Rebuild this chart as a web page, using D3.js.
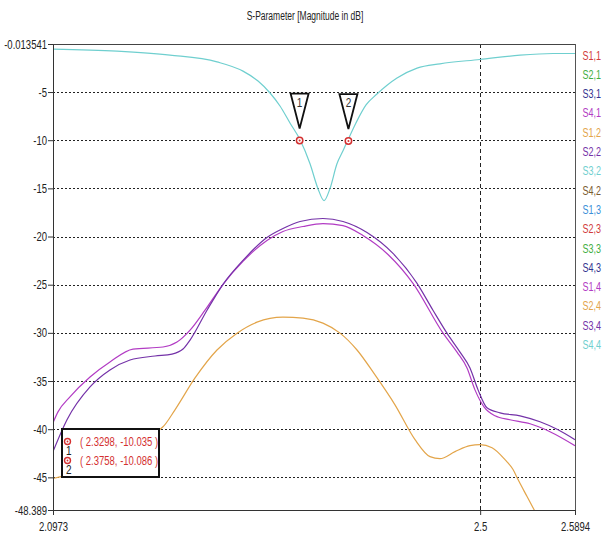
<!DOCTYPE html>
<html>
<head>
<meta charset="utf-8">
<script src="https://cdn.jsdelivr.net/npm/d3@7"></script>
<style>
  body { margin: 0; background: #fff; }
  text { font-family: "Liberation Sans", Arial, sans-serif; }
</style>
</head>
<body>
<div id="chart"></div>
<script>
// frequency (GHz) / magnitude (dB)
const s44x = [2.0973, 2.1576, 2.2076, 2.2519, 2.2764, 2.2906, 2.3019, 2.3113, 2.3207, 2.3302, 2.3396, 2.3471, 2.3528, 2.3584, 2.3650, 2.3707, 2.3754, 2.3829, 2.3924, 2.4027, 2.4216, 2.4405, 2.4621, 2.4998, 2.5376, 2.5687, 2.5894];
const s44y = [-0.55, -0.76, -1.17, -1.87, -2.83, -3.86, -5.10, -6.45, -8.21, -9.96, -12.45, -15.03, -16.27, -15.03, -12.45, -11.10, -9.96, -8.21, -6.34, -5.21, -3.55, -2.52, -2.07, -1.62, -1.17, -1.00, -1.00];

const s14x = [2.0973, 2.1020, 2.1133, 2.1322, 2.1510, 2.1727, 2.2010, 2.2142, 2.2265, 2.2406, 2.2576, 2.2764, 2.2990, 2.3141, 2.3330, 2.3518, 2.3707, 2.3895, 2.4131, 2.4367, 2.4650, 2.4782, 2.4876, 2.4951, 2.5036, 2.5140, 2.5281, 2.5470, 2.5658, 2.5894];
const s14y = [-39.33, -38.20, -36.64, -34.58, -33.02, -31.68, -31.47, -30.96, -29.72, -27.65, -24.96, -22.58, -20.41, -19.48, -18.96, -18.65, -18.86, -19.89, -21.86, -24.86, -30.03, -32.00, -33.65, -35.92, -37.68, -38.61, -39.02, -39.44, -40.26, -41.71];

const s34x = [2.0973, 2.1105, 2.1322, 2.1510, 2.1699, 2.1935, 2.2095, 2.2199, 2.2265, 2.2425, 2.2576, 2.2764, 2.2990, 2.3141, 2.3302, 2.3518, 2.3707, 2.3933, 2.4178, 2.4405, 2.4555, 2.4687, 2.4810, 2.4904, 2.4980, 2.5064, 2.5187, 2.5376, 2.5564, 2.5734, 2.5894];
const s34y = [-42.33, -39.02, -35.61, -33.85, -32.82, -32.40, -32.20, -31.68, -30.75, -27.65, -24.96, -22.48, -20.10, -19.17, -18.44, -18.13, -18.44, -19.58, -21.75, -24.86, -27.65, -30.03, -32.00, -33.65, -35.92, -37.78, -38.30, -38.61, -39.23, -40.06, -41.09];

const s24x = [2.0973, 2.2010, 2.2123, 2.2312, 2.2519, 2.2708, 2.2896, 2.3141, 2.3330, 2.3518, 2.3679, 2.3839, 2.4009, 2.4197, 2.4386, 2.4527, 2.4621, 2.4763, 2.4904, 2.4998, 2.5112, 2.5234, 2.5310, 2.5357, 2.5442, 2.5517];
const s24y = [-45.12, -39.75, -37.99, -34.68, -31.78, -30.03, -28.89, -28.37, -28.47, -28.99, -30.03, -31.78, -34.37, -37.47, -41.09, -42.85, -43.06, -42.33, -41.71, -41.61, -41.92, -43.16, -44.19, -45.23, -46.99, -48.54];

const legendNames = ["S1,1","S2,1","S3,1","S4,1","S1,2","S2,2","S3,2","S4,2","S1,3","S2,3","S3,3","S4,3","S1,4","S2,4","S3,4","S4,4"];
const palette = ["#d13b3b","#3fae3f","#33338f","#b23cc4","#e3a54a","#7432a8","#6fcfcf","#7a5a2e","#3a8fd8"];

const yTicks = [-0.013541, -5, -10, -15, -20, -25, -30, -35, -40, -45, -48.389];
const yTickLabels = ["-0.013541","-5","-10","-15","-20","-25","-30","-35","-40","-45","-48.389"];
const gridY = [-5, -10, -15, -20, -25, -30, -35, -40, -45];
const xTicks = [2.0973, 2.5, 2.5894];
const xTickLabels = ["2.0973","2.5","2.5894"];

const markerIds = ["1","2"];
const markerX = [2.3298, 2.3758];
const markerY = [-10.035, -10.086];

const width = 607, height = 537;
const mLeft = 53, mRight = 575, mTop = 44, mBottom = 510;
const fs = 12.5;

// squeeze text horizontally, the original uses a narrow font
function squeeze(sel, f) {
    sel.each(function() {
        let w = this.getComputedTextLength();
        d3.select(this).attr("textLength", w * f).attr("lengthAdjust", "spacingAndGlyphs");
    });
}

let svg = d3.select("#chart").append("svg")
    .attr("width", width).attr("height", height);

let x = d3.scaleLinear().domain([2.0973, 2.5894]).range([mLeft, mRight]);
let y = d3.scaleLinear().domain([-48.389, -0.013541]).range([mBottom, mTop]);

svg.append("text")
    .attr("x", 305).attr("y", 20)
    .attr("text-anchor", "middle")
    .attr("font-size", fs).attr("fill", "#222")
    .text("S-Parameter [Magnitude in dB]")
    .call(squeeze, 0.68);

// grid
svg.append("g").selectAll("line")
    .data(gridY).enter().append("line")
    .attr("x1", mLeft).attr("x2", mRight)
    .attr("y1", d => Math.round(y(d)) + 0.5).attr("y2", d => Math.round(y(d)) + 0.5)
    .attr("stroke", "#222").attr("stroke-width", 1)
    .attr("stroke-dasharray", "2,2");
svg.append("line")
    .attr("x1", Math.round(x(2.5)) + 0.5).attr("x2", Math.round(x(2.5)) + 0.5)
    .attr("y1", mTop).attr("y2", mBottom)
    .attr("stroke", "#222").attr("stroke-dasharray", "4,3");

svg.append("clipPath").attr("id", "plotClip")
    .append("rect").attr("x", mLeft).attr("y", mTop)
    .attr("width", mRight - mLeft).attr("height", mBottom - mTop);

let line = d3.line()
    .x(d => x(d[0])).y(d => y(d[1]))
    .curve(d3.curveMonotoneX);

const series = [
    {xs: s24x, ys: s24y, colour: palette[4]},
    {xs: s14x, ys: s14y, colour: palette[3]},
    {xs: s34x, ys: s34y, colour: palette[5]},
    {xs: s44x, ys: s44y, colour: palette[6]}
];
let plot = svg.append("g").attr("clip-path", "url(#plotClip)");
for (let s of series) {
    plot.append("path")
        .datum(s.xs.map((v, i) => [v, s.ys[i]]))
        .attr("d", line)
        .attr("fill", "none")
        .attr("stroke", s.colour)
        .attr("stroke-width", 1.2);
}

// frame
svg.append("line").attr("x1", mLeft).attr("x2", mRight).attr("y1", mTop + 0.5).attr("y2", mTop + 0.5)
    .attr("stroke", "#444");
svg.append("line").attr("x1", mRight + 0.5).attr("x2", mRight + 0.5).attr("y1", mTop).attr("y2", mBottom)
    .attr("stroke", "#555");

// axes
let yAxis = d3.axisLeft(y).tickValues(yTicks)
    .tickFormat((d, i) => yTickLabels[i]).tickSize(5).tickSizeOuter(0);
let gy = svg.append("g").attr("transform", `translate(${mLeft},0)`).call(yAxis);
let xAxis = d3.axisBottom(x).tickValues(xTicks)
    .tickFormat((d, i) => xTickLabels[i]).tickSize(5).tickSizeOuter(0);
let gx = svg.append("g").attr("transform", `translate(0,${mBottom})`).call(xAxis);
for (let g of [gx, gy]) {
    g.selectAll("path, line").attr("stroke", "#333");
    g.selectAll("text").attr("font-size", fs).attr("fill", "#222")
        .style("font-family", "'Liberation Sans', Arial, sans-serif");
}
gy.selectAll("text").attr("x", -6).call(squeeze, 0.76);
gx.selectAll("text").attr("y", 12).call(squeeze, 0.76);

// legend (right-anchored so it stays inside the window)
svg.append("g").selectAll("text")
    .data(legendNames).enter().append("text")
    .attr("x", 601)
    .attr("y", (d, i) => 59.5 + i * 19.3)
    .attr("text-anchor", "end")
    .attr("font-size", fs)
    .attr("fill", (d, i) => palette[i % palette.length])
    .text(d => d)
    .call(squeeze, 0.72);

// markers
let mk = svg.append("g");
markerIds.forEach((id, i) => {
    let px = x(markerX[i]), py = y(markerY[i]);
    mk.append("path")
        .attr("d", `M${px - 9},${py - 47} L${px + 9},${py - 47} L${px},${py - 12} Z`)
        .attr("fill", "#fff").attr("stroke", "#111").attr("stroke-width", 1.8);
    mk.append("text").attr("x", px).attr("y", py - 34)
        .attr("text-anchor", "middle").attr("font-size", fs).attr("fill", "#333")
        .text(id).call(squeeze, 0.8);
    mk.append("circle").attr("cx", px).attr("cy", py).attr("r", 3.2)
        .attr("fill", "#fff").attr("stroke", "#d43030").attr("stroke-width", 1.5);
    mk.append("circle").attr("cx", px).attr("cy", py).attr("r", 1)
        .attr("fill", "#d43030");
});

// marker readout box
let box = svg.append("g");
box.append("rect").attr("x", 62).attr("y", 429).attr("width", 97).attr("height", 48)
    .attr("fill", "#fff").attr("stroke", "#111").attr("stroke-width", 2);
markerIds.forEach((id, i) => {
    let cy = 441.5 + i * 19;
    box.append("circle").attr("cx", 67.5).attr("cy", cy).attr("r", 3)
        .attr("fill", "#fff").attr("stroke", "#d43030").attr("stroke-width", 1.4);
    box.append("circle").attr("cx", 67.5).attr("cy", cy).attr("r", 0.9).attr("fill", "#d43030");
    box.append("text").attr("x", 66).attr("y", cy + 13).attr("font-size", fs).attr("fill", "#222")
        .text(id).call(squeeze, 0.8);
    box.append("text").attr("x", 80).attr("y", cy + 4.5)
        .attr("font-size", fs).attr("fill", "#d43030")
        .text(`( ${markerX[i]}, ${markerY[i]} )`)
        .call(squeeze, 0.76);
});
</script>
</body>
</html>
